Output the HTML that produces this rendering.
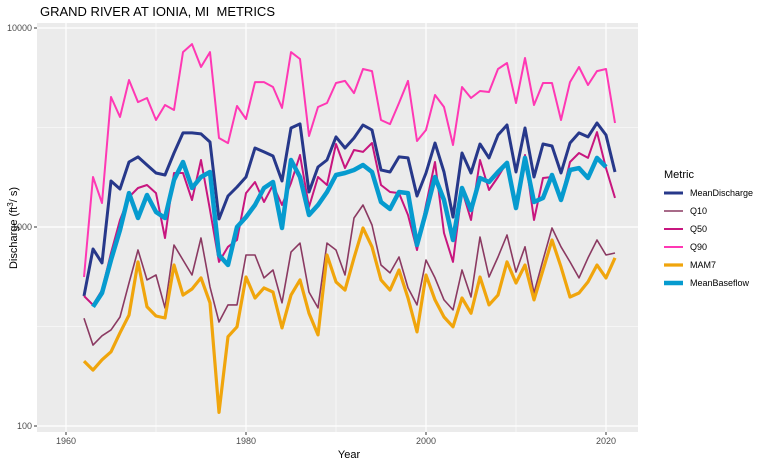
<!DOCTYPE html>
<html><head><meta charset="utf-8"><style>
body{margin:0;background:#fff;}
svg{display:block;font-family:"Liberation Sans",Arial,sans-serif;}
</style></head><body>
<svg id="chart" width="757" height="464" viewBox="0 0 757 464"></svg>
<script>
const years = Array.from({length:60},(_,i)=>1962+i);
const meanDischarge = [450,775,660,1703,1553,2122,2250,2049,1868,1825,2355,2970,2970,2935,2673,1097,1432,1588,1783,2495,
 2385,2274,1703,3145,3295,1500,2002,2171,2835,2495,2802,3255,3072,1934,1890,2250,2224,1432,1868,2644,
 1890,1122,2355,1868,2613,2224,2900,3255,1890,3145,1783,2613,2553,1868,2644,2970,2835,3330,2900,1890];
const q10 = [348,255,284,304,353,523,766,542,574,392,812,683,574,880,500,333,406,406,723,723,
 555,608,416,748,830,471,392,830,766,574,1110,1290,1023,644,588,707,494,406,683,555,
 430,383,608,445,890,561,707,912,594,795,466,683,988,795,668,555,699,860,723,740];
const q50 = [450,406,482,740,1084,1415,1570,1626,1480,880,1868,1868,1367,2171,1217,668,795,860,1480,1683,
 1335,1626,1290,1663,2300,1260,1783,1626,2613,1978,2437,2385,2644,1626,1500,1480,1149,766,1290,2122,
 933,668,1535,1084,2171,1535,1783,2122,1260,2300,1084,1763,1783,1367,2122,2355,2224,3000,1978,1400];
const q90 = [561,1784,1320,4500,3570,5480,4245,4450,3450,4103,3872,7570,8300,6370,7570,2800,2640,4055,3490,5350,
 5350,5050,3965,7570,6985,2865,4010,4200,5290,5420,4710,6220,6075,3450,3290,4200,5420,2705,3072,4605,
 4010,2583,5050,4450,4825,4770,6220,6670,4200,7070,4103,5290,5290,3450,5350,6370,5170,6075,6220,3330];
const mam7 = [212,191,215,236,294,361,668,397,357,349,644,455,488,555,416,117,281,315,561,440,
 494,471,311,455,542,369,287,723,530,482,699,988,795,542,482,608,440,297,574,430,
 353,315,440,369,561,406,455,668,523,644,430,608,860,630,445,466,530,644,555,699];
const meanBaseflow = [null,397,466,683,966,1480,1110,1448,1190,1110,1723,2122,1570,1783,1890,723,644,1000,1122,1290,
 1570,1683,988,2171,1783,1149,1290,1500,1825,1868,1934,2049,1890,1335,1232,1500,1480,812,1190,1783,
 1367,860,1570,1217,1763,1683,1890,2100,1245,2224,1335,1400,1825,1367,1934,1978,1763,2224,2002,null];
const yTicks = [100,1000,10000];
const xTicks = [1960,1980,2000,2020];

const NS="http://www.w3.org/2000/svg";
const svg=document.getElementById('chart');
const P={l:37,r:638,t:23,b:432};
const xS=y=>66+(y-1960)*9.0;
const yS=v=>426-(Math.log10(v)-2)*199;
function mk(tag,attrs,parent){const e=document.createElementNS(NS,tag);for(const k in attrs)e.setAttribute(k,attrs[k]);(parent||svg).appendChild(e);return e;}

const panel=mk('rect',{x:P.l,y:P.t,width:P.r-P.l,height:P.b-P.t,fill:'#ebebeb'});


[Math.sqrt(10)*100,Math.sqrt(10)*1000].forEach(v=>{const l=mk('line',{x1:P.l,x2:P.r,y1:yS(v),y2:yS(v),stroke:'#fff','stroke-width':0.6});

});
[1970,1990,2010].forEach(v=>{const l=mk('line',{x1:xS(v),x2:xS(v),y1:P.t,y2:P.b,stroke:'#fff','stroke-width':0.6});

});
yTicks.forEach(v=>{const y=yS(v);
const g=mk('line',{x1:P.l,x2:P.r,y1:y,y2:y,stroke:'#fff','stroke-width':1.2});


const tk=mk('line',{x1:P.l-3,x2:P.l,y1:y,y2:y,stroke:'#333','stroke-width':1});


const t=mk('text',{x:P.l-5,y:y+3,'text-anchor':'end','font-size':9,fill:'#4d4d4d'});t.textContent=v;

});
xTicks.forEach(v=>{const x=xS(v);
const g=mk('line',{x1:x,x2:x,y1:P.t,y2:P.b,stroke:'#fff','stroke-width':1.2});


const tk=mk('line',{x1:x,x2:x,y1:P.b,y2:P.b+3,stroke:'#333','stroke-width':1});


const t=mk('text',{x:x,y:P.b+12,'text-anchor':'middle','font-size':9,fill:'#4d4d4d'});t.textContent=v;

});

const series=[
 ['MeanDischarge',meanDischarge,'#27388a',3],
 ['Q10',q10,'#8b3a62',1.6],
 ['Q50',q50,'#c8167f',2],
 ['Q90',q90,'#ff38b4',2],
 ['MAM7',mam7,'#f0a50c',3.2],
 ['MeanBaseflow',meanBaseflow,'#069bcf',4.5]];
series.forEach(([name,data,col,w],i)=>{
 let d='';let pen=false;
 data.forEach((v,j)=>{if(v==null){pen=false;return;}d+=(pen?'L':'M')+xS(years[j]).toFixed(1)+','+yS(v).toFixed(1);pen=true;});
 const p=mk('path',{d:d,fill:'none',stroke:col,'stroke-width':w,'stroke-linejoin':'round'});
 
 
 const ly=193+i*18;
 const ll=mk('line',{x1:664,x2:683,y1:ly,y2:ly,stroke:col,'stroke-width':w});
 
 
 const lt=mk('text',{x:690,y:ly+3,'font-size':9,fill:'#000'});lt.textContent=name;
 
 
});
const lt=mk('text',{x:664,y:178,'font-size':11,fill:'#000'});lt.textContent='Metric';


const ti=mk('text',{x:40,y:16,'font-size':13,fill:'#000','xml:space':'preserve',style:'white-space:pre'});ti.textContent='GRAND RIVER AT IONIA, MI  METRICS';


const xt=mk('text',{x:349,y:458,'text-anchor':'middle','font-size':11,fill:'#000'});xt.textContent='Year';


const yt=mk('text',{x:0,y:0,'text-anchor':'middle','font-size':11,fill:'#000',transform:'translate(17,228) rotate(-90)'});
yt.innerHTML='Discharge (ft<tspan dy="-4" font-size="8">3</tspan><tspan dy="4">/ s)</tspan>';


</script>
</body></html>
